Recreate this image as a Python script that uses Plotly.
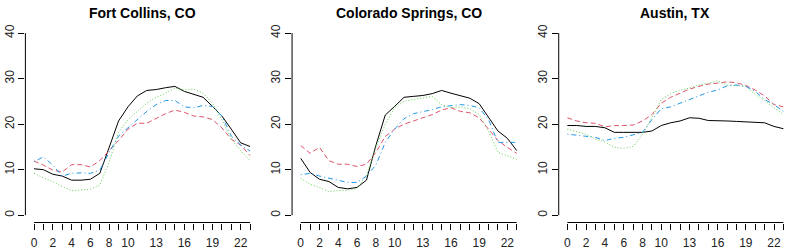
import plotly.graph_objects as go

hours = list(range(24))
x_tick_labels = ["0", "", "2", "", "4", "", "6", "", "8", "", "10", "", "", "13", "", "",
                 "16", "", "", "19", "", "", "22", ""]
y_ticks = [0, 10, 20, 30, 40]
cities = ["Fort Collins, CO", "Colorado Springs, CO", "Austin, TX"]

fc_black = [10.2, 10.0, 9.0, 8.6, 7.7, 7.7, 7.9, 9.2, 14.9, 20.7, 23.8, 26.2, 27.4, 27.6, 28.0, 28.3, 27.2, 26.5, 25.9, 23.9, 21.8, 18.9, 15.9, 15.1]
fc_red = [11.9, 11.0, 9.9, 9.5, 11.1, 11.1, 10.6, 12.0, 14.2, 16.4, 18.9, 20.2, 20.2, 21.2, 22.3, 23.1, 22.6, 21.8, 21.6, 21.0, 19.2, 16.7, 15.4, 13.1]
fc_green = [9.2, 8.2, 7.4, 6.3, 5.4, 5.6, 5.7, 6.6, 11.7, 18.2, 21.0, 22.8, 24.6, 25.9, 26.8, 27.9, 27.5, 27.7, 26.8, 24.6, 21.0, 16.7, 14.2, 12.0]
fc_blue = [11.8, 12.8, 11.0, 8.6, 9.2, 9.3, 9.2, 9.9, 13.8, 17.4, 19.2, 21.0, 22.8, 24.3, 25.2, 25.2, 23.8, 23.6, 24.1, 23.9, 21.8, 17.4, 15.4, 14.1]

cs_black = [12.5, 9.4, 7.9, 7.4, 6.1, 5.8, 6.1, 7.7, 15.3, 22.0, 23.9, 25.9, 26.1, 26.3, 26.7, 27.4, 26.8, 26.3, 25.7, 24.5, 21.4, 18.5, 16.9, 14.2]
cs_red = [15.3, 13.6, 14.9, 12.0, 11.2, 11.2, 10.7, 11.2, 13.8, 17.3, 18.9, 20.0, 20.7, 21.4, 22.1, 23.1, 23.6, 22.8, 22.5, 21.4, 18.9, 16.4, 14.9, 13.6]
cs_green = [8.1, 6.8, 6.1, 5.2, 5.4, 5.5, 5.9, 8.8, 14.9, 20.0, 23.6, 25.0, 25.4, 25.7, 26.1, 24.3, 23.6, 23.8, 23.4, 22.1, 18.5, 13.8, 13.1, 12.3]
cs_blue = [8.9, 9.2, 8.6, 8.1, 7.6, 7.2, 7.2, 8.6, 11.0, 16.0, 18.9, 21.2, 22.3, 22.7, 23.2, 23.8, 24.1, 24.3, 24.1, 23.6, 21.0, 16.0, 16.0, 16.0]

au_black = [19.7, 19.7, 19.5, 19.5, 19.2, 18.2, 18.2, 18.2, 18.2, 18.5, 19.7, 20.3, 20.7, 21.4, 21.3, 20.8, 20.8, 20.7, 20.6, 20.5, 20.3, 20.3, 19.5, 19.0]
au_red = [21.4, 20.7, 20.3, 20.2, 19.4, 19.7, 19.7, 19.8, 20.7, 22.1, 24.6, 25.9, 26.8, 27.7, 28.3, 28.8, 29.0, 29.3, 29.1, 28.5, 27.5, 26.2, 24.3, 23.8]
au_green = [18.9, 18.3, 17.8, 16.7, 16.1, 14.9, 14.7, 15.1, 17.8, 21.4, 25.4, 26.7, 27.5, 27.9, 28.6, 29.0, 29.5, 28.6, 28.4, 28.3, 26.5, 25.2, 23.6, 22.1]
au_blue = [17.8, 17.6, 17.4, 17.1, 16.4, 16.9, 17.1, 17.6, 18.2, 21.0, 23.4, 23.8, 24.6, 25.4, 26.1, 27.0, 27.5, 28.4, 28.6, 28.3, 27.2, 25.4, 24.3, 22.8]

panels = [
    [fc_black, fc_red, fc_green, fc_blue],
    [cs_black, cs_red, cs_green, cs_blue],
    [au_black, au_red, au_green, au_blue],
]
styles = [
    dict(color="#000000", dash="solid"),
    dict(color="#DF536B", dash="5px,3px"),
    dict(color="#61D04F", dash="1px,2px"),
    dict(color="#2297E6", dash="1px,3px,5px,3px"),
]

W, H = 800, 250
fig = go.Figure()

panel_w = W / 3.0
left_in, right_in = 25.4, 258.7
y_bot_px, y_top_px = 223.3, 25.0

span_x = max(hours) - min(hours)
span_y = max(y_ticks) - min(y_ticks)
xr = [min(hours) - 0.04 * span_x, max(hours) + 0.04 * span_x]
yr = [min(y_ticks) - 0.04 * span_y, max(y_ticks) + 0.04 * span_y]

layout = dict(
    width=W, height=H,
    margin=dict(l=0, r=0, t=0, b=0),
    paper_bgcolor="white", plot_bgcolor="white",
    showlegend=False,
    font=dict(family="Liberation Sans, Arial, sans-serif", color="black", size=12),
)
annotations = []
shapes = []
for i, series in enumerate(panels):
    sfx = "" if i == 0 else str(i + 1)
    x0 = (i * panel_w + left_in) / W
    x1 = (i * panel_w + right_in) / W
    for vals, st in zip(series, styles):
        fig.add_trace(go.Scatter(
            x=hours, y=vals, mode="lines",
            line=dict(color=st["color"], dash=st["dash"], width=1),
            xaxis="x" + sfx, yaxis="y" + sfx, hoverinfo="skip",
        ))
    layout["xaxis" + sfx] = dict(
        domain=[x0, x1], range=xr, anchor="y" + sfx,
        showgrid=False, zeroline=False, showline=False,
        tickmode="array", tickvals=hours, ticktext=x_tick_labels,
        ticks="outside", ticklen=6, tickwidth=1, tickcolor="black",
        tickfont=dict(size=12, color="#222222"), tickangle=0,
        ticklabelstandoff=3,
    )
    layout["yaxis" + sfx] = dict(
        domain=[(H - y_bot_px) / H, (H - y_top_px) / H], range=yr, anchor="x" + sfx,
        showgrid=False, zeroline=False, showline=False,
        tickmode="array", tickvals=y_ticks, ticktext=[str(v) for v in y_ticks],
        ticks="outside", ticklen=6, tickwidth=1, tickcolor="black",
        tickfont=dict(size=12, color="#222222"), tickangle=-90,
    )
    shapes.append(dict(type="line", xref="x" + sfx, yref=f"y{sfx} domain",
                       x0=min(hours), x1=max(hours), y0=0, y1=0,
                       line=dict(color="black", width=1)))
    shapes.append(dict(type="line", xref=f"x{sfx} domain", yref="y" + sfx,
                       x0=0, x1=0, y0=min(y_ticks), y1=max(y_ticks),
                       line=dict(color="black", width=1)))
    annotations.append(dict(
        text="<b>" + cities[i] + "</b>", xref="paper", yref="paper",
        x=(i * panel_w + (left_in + right_in) / 2) / W, y=(H - 12) / H,
        xanchor="center", yanchor="middle", showarrow=False,
        font=dict(size=14, color="black"),
    ))

layout["annotations"] = annotations
layout["shapes"] = shapes
fig.update_layout(**layout)
fig.write_html(
    "out.html",
    config={"displayModeBar": False},
    post_script="document.body.style.margin='0';document.body.style.overflow='hidden';",
)
